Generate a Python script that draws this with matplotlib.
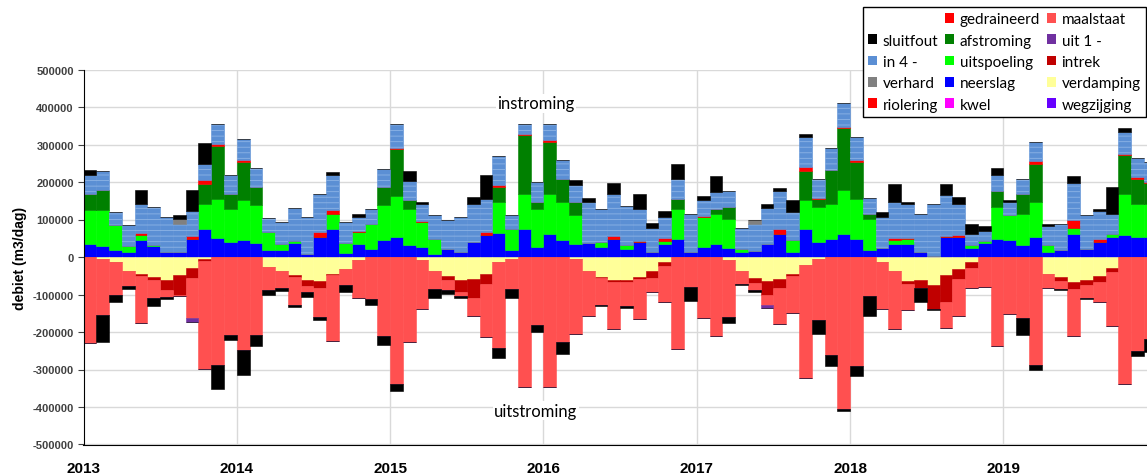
import numpy as np
import matplotlib
matplotlib.use("Agg")
import matplotlib.pyplot as plt
from matplotlib.patches import Patch

# monthly values in 1000 m3/dag, Jan 2013 .. Dec 2019
years = [2013, 2014, 2015, 2016, 2017, 2018, 2019]

neerslag = [34, 29, 20, 14, 45, 29, 14, 14, 49, 74, 51, 40,
            45, 37, 18, 18, 38, 9, 53, 74, 10, 36, 22, 45,
            53, 31, 27, 9, 22, 13, 40, 58, 64, 18, 76, 27,
            62, 45, 36, 38, 27, 47, 22, 40, 13, 36, 47, 13,
            27, 36, 24, 13, 15, 36, 62, 13, 76, 40, 49, 62,
            49, 18, 24, 36, 36, 13, 4, 53, 53, 24, 38, 47,
            45, 31, 53, 13, 18, 62, 22, 40, 53, 60, 53, 53]
uitspoeling = [91, 96, 65, 15, 13, 4, 0, 0, 0, 68, 105, 89,
               108, 103, 49, 18, 5, 0, 0, 42, 27, 31, 67, 93,
               110, 96, 66, 40, 0, 0, 0, 0, 83, 58, 91, 102,
               107, 102, 77, 0, 13, 0, 9, 0, 0, 8, 82, 0,
               80, 80, 78, 9, 0, 0, 0, 32, 75, 93, 93, 116,
               107, 84, 0, 9, 11, 0, 0, 0, 0, 8, 4, 86,
               66, 85, 94, 18, 0, 16, 0, 0, 9, 107, 89, 89]
afstroming = [42, 53, 0, 0, 0, 0, 0, 0, 0, 54, 140, 40,
              100, 47, 0, 0, 0, 0, 0, 0, 0, 0, 0, 49,
              126, 24, 0, 0, 0, 0, 0, 0, 40, 0, 158, 18,
              138, 62, 34, 0, 0, 0, 0, 0, 0, 0, 27, 0,
              0, 13, 31, 0, 0, 0, 0, 0, 78, 23, 89, 165,
              97, 14, 0, 0, 0, 0, 0, 0, 0, 0, 0, 42,
              0, 51, 100, 0, 0, 0, 0, 0, 0, 104, 67, 55]
riolering = [2, 0, 0, 0, 6, 0, 0, 0, 6, 9, 6, 0,
             5, 0, 0, 0, 0, 0, 15, 9, 0, 2, 0, 0,
             2, 0, 3, 0, 0, 0, 0, 10, 4, 0, 3, 0,
             4, 0, 0, 0, 0, 8, 0, 3, 0, 6, 0, 0,
             3, 0, 0, 0, 0, 0, 14, 0, 11, 2, 0, 3,
             6, 0, 0, 6, 5, 0, 0, 3, 6, 0, 0, 0,
             0, 0, 9, 0, 0, 20, 0, 9, 0, 4, 4, 3]
in4 = [51, 51, 35, 56, 78, 100, 94, 75, 68, 42, 52, 51,
       56, 51, 37, 58, 88, 98, 101, 95, 57, 38, 40, 49,
       65, 51, 46, 62, 78, 95, 102, 88, 78, 37, 28, 53,
       45, 51, 44, 109, 89, 114, 105, 86, 65, 58, 53, 103,
       41, 44, 42, 56, 74, 95, 99, 75, 80, 49, 60, 66,
       61, 42, 83, 96, 90, 103, 138, 109, 83, 30, 27, 45,
       37, 42, 51, 52, 71, 100, 91, 73, 54, 59, 51, 53]
verhard = [0, 0, 0, 0, 0, 0, 0, 13, 0, 0, 0, 0,
           0, 0, 0, 0, 0, 0, 0, 0, 0, 0, 0, 0,
           0, 0, 0, 0, 0, 0, 0, 0, 0, 0, 0, 0,
           0, 0, 0, 0, 0, 0, 0, 0, 0, 0, 0, 0,
           0, 0, 0, 0, 9, 0, 0, 0, 0, 0, 0, 0,
           0, 0, 0, 0, 0, 0, 0, 0, 0, 0, 0, 0,
           0, 0, 0, 0, 0, 0, 0, 0, 0, 0, 0, 0]
sluitfout = [13, -71, -20, -9, 38, -21, -4, 9, 57, 56, -62, -11,
             -65, -28, -13, -9, -4, -13, -9, 7, -18, 9, -16, -23,
             -18, 27, 4, -25, -9, -7, 18, 62, -27, -24, 0, -20,
             0, -31, 14, 11, -4, 29, -5, 38, 14, 14, 40, -36,
             13, 42, -15, -4, -6, 11, 9, 31, 9, -36, -28, -5,
             -27, -52, 13, 49, 5, -36, -4, 31, 18, 25, 15, 18,
             4, -44, -15, 4, -4, 18, -4, 5, 71, 9, -12, -36]

verdamping = [0, 4, 13, 36, 44, 53, 62, 49, 29, 4, 0, 0,
              0, 0, 27, 38, 49, 60, 65, 44, 31, 9, 0, 0,
              0, 0, 9, 38, 51, 60, 58, 44, 13, 4, 0, 0,
              0, 0, 6, 36, 53, 60, 60, 53, 38, 12, 0, 0,
              0, 0, 9, 38, 56, 65, 58, 44, 22, 6, 0, 0,
              0, 0, 13, 36, 65, 60, 74, 49, 31, 13, 0, 0,
              0, 0, 0, 44, 53, 67, 62, 51, 29, 0, 0, 0]
intrek = [0, 0, 0, 0, 7, 9, 27, 52, 27, 6, 0, 0,
          0, 0, 0, 0, 3, 18, 18, 4, 0, 0, 0, 0,
          0, 0, 0, 0, 9, 34, 52, 27, 0, 0, 0, 0,
          0, 0, 0, 0, 3, 7, 7, 6, 18, 11, 0, 0,
          0, 0, 0, 0, 12, 36, 25, 6, 0, 0, 0, 0,
          0, 0, 0, 0, 6, 23, 64, 71, 27, 16, 0, 0,
          0, 0, 0, 0, 12, 18, 13, 16, 11, 0, 0, 0]
maalstaat = [228, 151, 87, 40, 124, 47, 18, 2, 107, 288, 289, 209,
             249, 209, 62, 44, 76, 16, 77, 176, 44, 100, 111, 211,
             338, 227, 129, 46, 29, 9, 46, 142, 229, 81, 347, 180,
             347, 227, 198, 120, 71, 126, 64, 105, 37, 96, 246, 80,
             163, 211, 151, 33, 20, 28, 95, 98, 300, 162, 262, 405,
             291, 104, 125, 157, 69, 0, 0, 69, 100, 53, 80, 236,
             151, 163, 287, 38, 20, 126, 34, 53, 144, 338, 251, 218]
uit1 = [0, 0, 0, 0, 0, 0, 0, 0, 11, 0, 0, 0,
        0, 0, 0, 0, 0, 0, 0, 0, 0, 0, 0, 0,
        0, 0, 0, 0, 0, 0, 0, 0, 0, 0, 0, 0,
        0, 0, 0, 0, 0, 0, 0, 0, 0, 0, 0, 0,
        0, 0, 0, 0, 0, 7, 0, 0, 0, 0, 0, 0,
        0, 0, 0, 0, 0, 0, 0, 0, 0, 0, 0, 0,
        0, 0, 0, 0, 0, 0, 0, 0, 0, 0, 0, 0]

colors = {
    "sluitfout": "#000000",
    "in 4 -": "#5B8FD4",
    "verhard": "#808080",
    "riolering": "#FF0000",
    "gedraineerd": "#FF0000",
    "afstroming": "#008000",
    "uitspoeling": "#00FF00",
    "neerslag": "#0000FF",
    "kwel": "#FF00FF",
    "maalstaat": "#FF5050",
    "uit 1 -": "#7030A0",
    "intrek": "#C00000",
    "verdamping": "#FFFF99",
    "wegzijging": "#6600FF",
}

plt.rcParams["font.family"] = "Liberation Sans"
plt.rcParams["hatch.linewidth"] = 0.6

fig = plt.figure(figsize=(11.47, 4.77), dpi=100)
ax = fig.add_axes([83.5 / 1147, 31.5 / 477, 1 - 83.5 / 1147, 375 / 477])

n = len(neerslag)
x = years[0] + np.arange(n) / 12
w = 1 / 12
k = 1000

sf = np.array(sluitfout) * k

# positive side, bottom to top
base = np.zeros(n)
for name, vals in [("neerslag", neerslag), ("uitspoeling", uitspoeling),
                   ("afstroming", afstroming), ("riolering", riolering),
                   ("in 4 -", in4), ("verhard", verhard)]:
    v = np.array(vals) * k
    c = colors[name]
    ax.bar(x, v, w, bottom=base, align="edge", color=c, edgecolor=c, linewidth=0.4)
    if name == "in 4 -":
        ax.bar(x, v, w, bottom=base, align="edge", facecolor="none",
               edgecolor="#8DB4E6", linewidth=0, hatch="---")
    base += v
pos = np.clip(sf, 0, None)
ax.bar(x, pos, w, bottom=base, align="edge", color="black", edgecolor="black", linewidth=0.4)

# negative side, top to bottom
base = np.zeros(n)
for name, vals in [("verdamping", verdamping), ("intrek", intrek),
                   ("maalstaat", maalstaat), ("uit 1 -", uit1)]:
    v = -np.array(vals) * k
    c = colors[name]
    ax.bar(x, v, w, bottom=base, align="edge", color=c, edgecolor=c, linewidth=0.4)
    base += v
neg = np.clip(sf, None, 0)
ax.bar(x, neg, w, bottom=base, align="edge", color="black", edgecolor="black", linewidth=0.4)

ax.set_ylim(-500000, 500000)
ax.set_xlim(years[0], years[-1] + 143.6 / 153.3)
ax.set_yticks(range(-500000, 500001, 100000))
ax.set_yticklabels([str(t) for t in range(-500000, 500001, 100000)],
                   fontsize=8, fontweight="bold", color="#404040")
ax.set_xticks(years)
ax.set_xticklabels([str(y) for y in years], fontsize=11, fontweight="bold")
ax.tick_params(axis="x", length=0, pad=12)
ax.tick_params(axis="y", length=4, width=0.8, color="#404040", pad=3)

ax.set_axisbelow(True)
ax.grid(True, color="#D9D9D9", linewidth=1)
for s in ["top", "right"]:
    ax.spines[s].set_visible(False)
ax.spines["left"].set_color("black")
ax.spines["bottom"].set_color("black")

ax.set_ylabel("debiet (m3/dag)", fontsize=10, fontweight="bold", labelpad=4)

ax.text(2015.95, 410000, "instroming", ha="center", va="center", fontsize=12,
        family="Lato", bbox=dict(facecolor="white", edgecolor="none", pad=1))
ax.text(2015.95, -410000, "uitstroming", ha="center", va="center", fontsize=12,
        family="Lato", bbox=dict(facecolor="white", edgecolor="none", pad=1))

order = ["", "sluitfout", "in 4 -", "verhard", "riolering",
         "gedraineerd", "afstroming", "uitspoeling", "neerslag", "kwel",
         "maalstaat", "uit 1 -", "intrek", "verdamping", "wegzijging"]
handles = []
for name in order:
    if name == "":
        handles.append(Patch(facecolor="none", edgecolor="none", label=" "))
    else:
        handles.append(Patch(facecolor=colors[name], edgecolor="none", label=name))

leg = fig.legend(handles=handles, ncol=3, loc="upper right",
                 bbox_to_anchor=(1146 / 1147, 1 - 8 / 477),
                 prop={"family": "Lato", "size": 11},
                 frameon=True, fancybox=False, framealpha=1, edgecolor="black",
                 handlelength=0.6, handleheight=0.6, handletextpad=0.35,
                 columnspacing=0.45, labelspacing=0.48, borderpad=0.35,
                 borderaxespad=0)
leg.get_frame().set_linewidth(1)

fig.savefig("out.png", dpi=100)
